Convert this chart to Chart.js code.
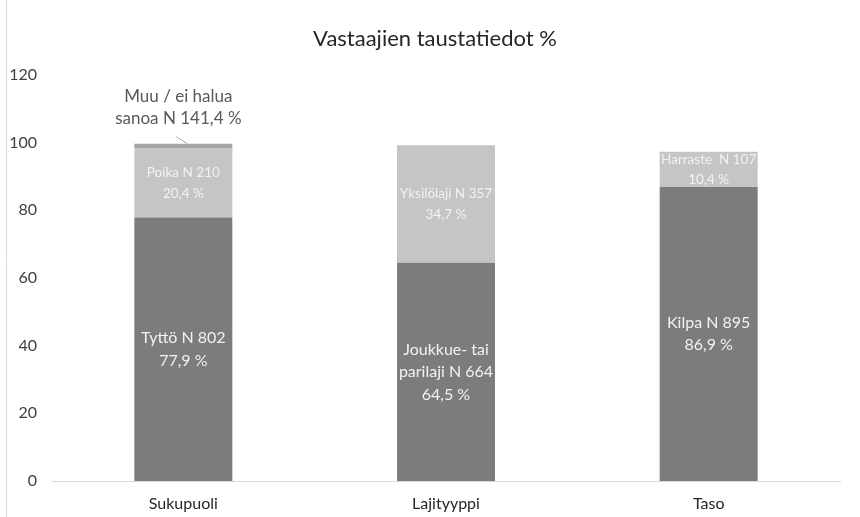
<!DOCTYPE html>
<html>
<head>
<meta charset="utf-8">
<script src="https://cdn.jsdelivr.net/npm/chart.js@4.4.1/dist/chart.umd.min.js"></script>
<style>
  html, body { margin: 0; padding: 0; background: #fff; }
  #wrap { width: 860px; height: 517px; }
</style>
</head>
<body>
<div id="wrap"><canvas id="chart" width="860" height="517"></canvas></div>
<script>
// chart data
const chartTitle = 'Vastaajien taustatiedot %';
const categories = ['Sukupuoli', 'Lajityyppi', 'Taso'];
const mainValues = [77.9, 64.5, 86.9];
const mainLabels = [['Tyttö N 802', '77,9 %'], ['Joukkue- tai', 'parilaji N 664', '64,5 %'], ['Kilpa N 895', '86,9 %']];
const secondValues = [20.4, 34.7, 10.4];
const secondLabels = [['Poika N 210', '20,4 %'], ['Yksilölaji N 357', '34,7 %'], ['Harraste  N 107', '10,4 %']];
const otherValues = [1.4, 0, 0];
const otherLabels = [['Muu / ei halua', 'sanoa N 141,4 %'], null, null];
const yTicks = [0, 20, 40, 60, 80, 100, 120];

const FONT = 'Lato, "Open Sans", sans-serif';

// draws the title, the frame line and the text inside / above each segment
const segmentLabels = {
    id: 'segmentLabels',
    afterDatasetsDraw(chart) {
        const ctx = chart.ctx;
        ctx.save();
        ctx.textAlign = 'center';
        ctx.textBaseline = 'middle';

        // title, centred a bit right of the canvas middle like the original
        ctx.fillStyle = '#262626';
        ctx.font = '22px ' + FONT;
        ctx.fillText(chartTitle, 435, 39);

        chart.data.datasets.forEach((ds, di) => {
            const meta = chart.getDatasetMeta(di);
            ctx.font = ds.labelSize + 'px ' + FONT;
            meta.data.forEach((bar, i) => {
                const lines = ds.segLabels[i];
                if (!lines) return;
                const lh = ds.lineHeight;
                if (ds.outside) {
                    // label above the bar with a small leader line
                    ctx.fillStyle = '#595959';
                    const cx = bar.x - 5;
                    ctx.fillText(lines[0], cx, bar.y - 47);
                    ctx.fillText(lines[1], cx, bar.y - 25);
                    ctx.strokeStyle = '#a6a6a6';
                    ctx.lineWidth = 1;
                    ctx.beginPath();
                    ctx.moveTo(bar.x - 7, bar.y - 7);
                    ctx.lineTo(bar.x + 4, bar.y);
                    ctx.stroke();
                    return;
                }
                ctx.fillStyle = '#f2f2f2';
                const mid = (bar.y + bar.base) / 2;
                const start = mid - (lines.length - 1) * lh / 2;
                lines.forEach((t, k) => ctx.fillText(t, bar.x, start + k * lh));
            });
        });
        // thin frame line on the left
        ctx.strokeStyle = '#d9d9d9';
        ctx.lineWidth = 1;
        ctx.beginPath();
        ctx.moveTo(6.5, 0);
        ctx.lineTo(6.5, chart.height);
        ctx.stroke();
        ctx.restore();
    }
};

new Chart(document.getElementById('chart').getContext('2d'), {
    type: 'bar',
    data: {
        labels: categories,
        datasets: [
            { data: mainValues, segLabels: mainLabels, labelSize: 16, lineHeight: 22.5, backgroundColor: '#7b7c7b' },
            { data: secondValues, segLabels: secondLabels, labelSize: 13.5, lineHeight: 20.5, backgroundColor: '#c4c5c4' },
            { data: otherValues, segLabels: otherLabels, labelSize: 17, lineHeight: 22, outside: true, backgroundColor: '#a3a4a3' }
        ]
    },
    options: {
        responsive: false,
        animation: false,
        events: [],
        layout: { padding: { left: 0, right: 20, top: 75, bottom: 0 } },
        datasets: { bar: { categoryPercentage: 1, barPercentage: 0.373 } },
        plugins: {
            legend: { display: false },
            tooltip: { enabled: false },
            title: { display: false }
        },
        scales: {
            x: {
                stacked: true,
                grid: { display: false, drawTicks: false },
                border: { display: true, color: '#d9d9d9' },
                ticks: { color: '#262626', font: { family: FONT, size: 16 }, padding: 13 },
                afterFit(s) { s.height = 36; }
            },
            y: {
                stacked: true,
                min: 0,
                max: 120,
                grid: { display: false, drawTicks: false },
                border: { display: false },
                afterBuildTicks(s) { s.ticks = yTicks.map(v => ({ value: v })); },
                ticks: { color: '#404040', font: { family: FONT, size: 16 }, padding: 15 },
                afterFit(s) { s.width = 52; }
            }
        }
    },
    plugins: [segmentLabels]
});
</script>
</body>
</html>
